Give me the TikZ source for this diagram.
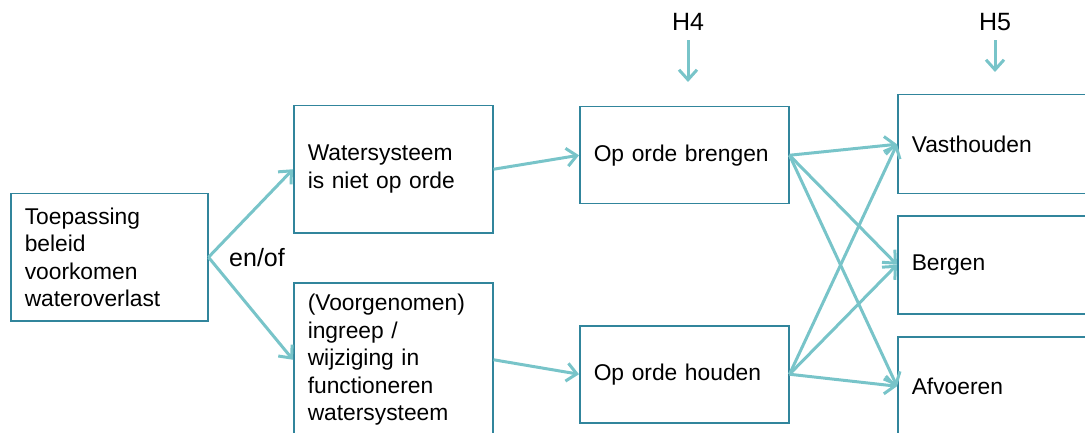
\documentclass[tikz,border=0pt]{standalone}
\usepackage{fontspec}
\setmainfont{Liberation Sans}
\usetikzlibrary{arrows.meta}

\definecolor{randkleur}{RGB}{49,133,156}
\definecolor{pijlkleur}{RGB}{120,196,201}

\begin{document}
\begin{tikzpicture}[x=1pt,y=-1pt,
  blok/.style={draw=randkleur,line width=1.5pt,anchor=north west,inner xsep=14pt,inner ysep=0pt,
    align=left,font=\fontsize{22.8}{27.5}\selectfont},
  pijl/.style={draw=pijlkleur,line width=3pt,-{Straight Barb[length=10pt,width=18pt]}},
  kop/.style={inner sep=0pt,font=\fontsize{25}{30}\selectfont}]

\useasboundingbox (0,0) rectangle (1085,433);
\clip (0,0) rectangle (1085,433);

% linker kolom
\node[blok,text width=169pt,minimum height=127pt] (toepassing) at (10,193)
  {Toepassing\\beleid\\voorkomen\\wateroverlast};
\node[kop,anchor=base west] (enof) at (229,266) {en/of};

\node[blok,text width=171pt,minimum height=127pt] (watersysteem) at (293,105)
  {Watersysteem\\is niet op orde};
\node[blok,text width=171pt,minimum height=154pt] (ingreep) at (293,282)
  {(Voorgenomen)\\ingreep /\\wijziging in\\functioneren\\watersysteem};

% middelste kolom
\node[blok,text width=181pt,minimum height=97pt] (brengen) at (579,106) {Op orde brengen};
\node[blok,text width=181pt,minimum height=97pt] (houden) at (579,325) {Op orde houden};
\node[kop,anchor=base] (h4) at (688,31) {H4};

% rechter kolom
\node[blok,text width=200pt,minimum height=99pt] (vasthouden) at (897,94) {Vasthouden};
\node[blok,text width=200pt,minimum height=98pt] (bergen) at (897,215) {Bergen};
\node[blok,text width=200pt,minimum height=99pt] (afvoeren) at (897,336) {Afvoeren};
\node[kop,anchor=base] (h5) at (995,31) {H5};

\draw[pijl] (toepassing.east) -- (watersysteem.west);
\draw[pijl] (toepassing.east) -- (ingreep.west);
\draw[pijl] (watersysteem.east) -- (brengen.west);
\draw[pijl] (ingreep.east) -- (houden.west);

\draw[pijl] ([yshift=-9pt]h4.south) -- ([yshift=24pt]brengen.north -| h4.south);
\draw[pijl] ([yshift=-9pt]h5.south) -- ([yshift=22pt]vasthouden.north -| h5.south);

\draw[pijl] (brengen.east) -- (vasthouden.west);
\draw[pijl] (brengen.east) -- (bergen.west);
\draw[pijl] (brengen.east) -- (afvoeren.west);
\draw[pijl] (houden.east) -- (vasthouden.west);
\draw[pijl] (houden.east) -- (bergen.west);
\draw[pijl] (houden.east) -- (afvoeren.west);
\end{tikzpicture}
\end{document}
